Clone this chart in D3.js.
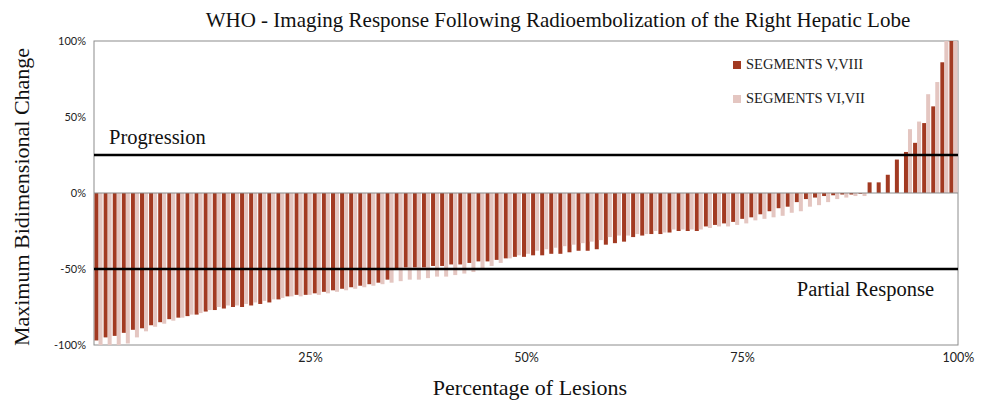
<!DOCTYPE html>
<html><head><meta charset="utf-8">
<script src="https://cdn.jsdelivr.net/npm/d3@7"></script>
<style>body{margin:0;background:#fff}svg{display:block}</style>
</head><body>
<svg id="c" width="987" height="400"></svg>
<script>
const seriesNames = ["SEGMENTS V,VIII", "SEGMENTS VI,VII"];
const segVVIII = [-97,-95,-94,-92,-90,-89,-87,-85,-83,-82,-81,-80,-78,-77,-76,-75,-75,-74,-73,-72,-70,-68,
-67,-67,-66,-65,-64,-63,-62,-61,-60,-59,-57,-50,-49,-49,-49,-48,-48,-47,-47,-46,-45,-45,-44,
-43,-42,-42,-41,-41,-40,-40,-39,-38,-38,-37,-34,-33,-32,-29,-28,-27,-27,-26,-25,-25,-25,-22,-21,-20,-19,-17,-16,-14,-12,-10,-9,-6,-4,-3,-2,-1.5,-1,-1,-0.5,7,7,12,22,27,33,46,57,86,100];
const segVIVII = [-100,-100,-100,-99,-95,-91,-88,-86,-84,-82,-80,-79,-77,-75,-74,-74,-73,-72,-71,-70,-69,-68,-68,-67,-67,-66,-65,-64,-63,-62,-61,-60,-59,-58,-57,-57,-56,-55,-55,-54,-53,-52,-50,-48,-46,-43,-41,-40,-38,-37,-36,-35,-34,-33,-32,-31,-29,-28,-28,-27,-27,-25,-26,-24,-24,-24,-24,-23,-22,-22,-21,-20,-18,-17,-16,-15,-13,-12,-9,-8,-6,-4,-3,-2,-2,0,0,0,0,42,47,65,73,100,100];
const yTicks = [100, 50, 0, -50, -100];
const xTicks = [25, 50, 75, 100];
const thresholds = [{v: 25, label: "Progression"}, {v: -50, label: "Partial Response"}];
const title = "WHO - Imaging Response Following Radioembolization of the Right Hepatic Lobe";
const xTitle = "Percentage of Lesions";
const yTitle = "Maximum Bidimensional Change";

const colors = ["#a23a22", "#e4c6c1"];
const svg = d3.select("#c");
const L = 94, R = 958, T = 41, B = 345;
const y = d3.scaleLinear().domain([-100, 100]).range([B, T]);
const xPct = d3.scaleLinear().domain([0, 100]).range([L, R]);
const idx = d3.range(segVVIII.length);
const xb = d3.scaleBand().domain(idx).range([L, R]).paddingInner(0.12).paddingOuter(0.06);
const xs = d3.scaleBand().domain([0, 1]).range([0, xb.bandwidth()]);

svg.append("rect").attr("x", L).attr("y", T).attr("width", R - L).attr("height", B - T)
  .attr("fill", "none").attr("stroke", "#8c8c8c").attr("stroke-width", 1);

const data = [segVVIII, segVIVII];
data.forEach((arr, s) => {
  svg.append("g").selectAll("rect").data(arr).join("rect")
    .attr("x", (d, i) => xb(i) + xs(s))
    .attr("width", xs.bandwidth())
    .attr("y", d => y(Math.max(0, d)))
    .attr("height", d => Math.abs(y(d) - y(0)))
    .attr("fill", colors[s]);
});

svg.append("line").attr("x1", L).attr("x2", R).attr("y1", y(0)).attr("y2", y(0))
  .attr("stroke", "#8c8c8c").attr("stroke-width", 1);

thresholds.forEach(t => {
  svg.append("line").attr("x1", L).attr("x2", R).attr("y1", y(t.v)).attr("y2", y(t.v))
    .attr("stroke", "#000").attr("stroke-width", 2.5);
});
svg.append("text").attr("x", 109).attr("y", y(25) - 11).text(thresholds[0].label)
  .attr("font-family", "Liberation Serif").attr("font-size", 20.5).attr("fill", "#111");
svg.append("text").attr("x", 934).attr("y", y(-50) + 27).attr("text-anchor", "end").text(thresholds[1].label)
  .attr("font-family", "Liberation Serif").attr("font-size", 20.5).attr("fill", "#111");

const yAxis = svg.append("g").attr("transform", `translate(${L},0)`)
  .call(d3.axisLeft(y).tickValues(yTicks).tickFormat(d => d + "%").tickSize(0).tickPadding(8));
yAxis.select(".domain").remove();
yAxis.selectAll("text").attr("font-family", "Lato").attr("font-size", 11).attr("fill", "#222");

const xAxis = svg.append("g").attr("transform", `translate(0,${B})`)
  .call(d3.axisBottom(xPct).tickValues(xTicks).tickFormat(d => d + "%").tickSize(0).tickPadding(8));
xAxis.select(".domain").remove();
xAxis.selectAll("text").attr("font-family", "Lato").attr("font-size", 12.5).attr("fill", "#222");

svg.append("text").attr("x", 558).attr("y", 27).attr("text-anchor", "middle").text(title)
  .attr("font-family", "Liberation Serif").attr("font-size", 21).attr("fill", "#111");
svg.append("text").attr("x", 530).attr("y", 395).attr("text-anchor", "middle").text(xTitle)
  .attr("font-family", "Liberation Serif").attr("font-size", 22).attr("fill", "#111");
svg.append("text").attr("transform", `translate(29,197) rotate(-90)`).attr("text-anchor", "middle").text(yTitle)
  .attr("font-family", "Liberation Serif").attr("font-size", 22).attr("fill", "#111");

const lg = svg.append("g");
seriesNames.forEach((n, i) => {
  const ly = 68 + i * 34;
  lg.append("rect").attr("x", 733).attr("y", ly - 7).attr("width", 8).attr("height", 8).attr("fill", colors[i]);
  lg.append("text").attr("x", 746).attr("y", ly + 1).text(n)
    .attr("font-family", "Liberation Serif").attr("font-size", 14.5).attr("fill", "#222");
});
</script>
</body></html>
